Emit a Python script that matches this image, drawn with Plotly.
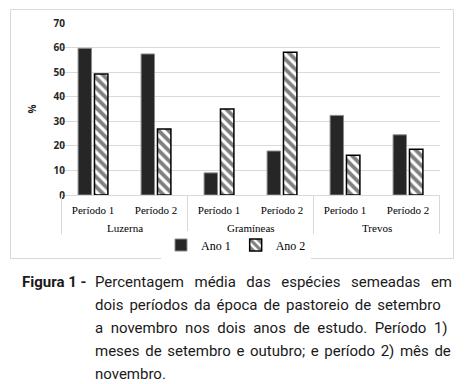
import plotly.graph_objects as go

W, H = 465, 384
OFF = 8  # default page body margin
FW, FH = W - OFF, H - OFF

groups = ["Luzerna", "Luzerna", "Gramíneas", "Gramíneas", "Trevos", "Trevos"]
periods = ["Período 1", "Período 2", "Período 1", "Período 2", "Período 1", "Período 2"]
ano1 = [59.7, 57.4, 9.0, 17.9, 32.4, 24.5]
ano2 = [49.2, 26.9, 35.0, 58.1, 16.2, 18.6]
series_names = ["Ano 1", "Ano 2"]
y_ticks = [0, 10, 20, 30, 40, 50, 60, 70]

caption_head = "Figura 1 -"
caption_lines = [
    "Percentagem média das espécies semeadas em",
    "dois períodos da época de pastoreio de setembro",
    "a novembro nos dois anos de estudo. Período 1)",
    "meses de setembro e outubro; e período 2) mês de",
    "novembro.",
]
caption_word_spacing = [6.8, 2.3, 3.8, 1.9, 0]

keys = [g + " | " + p for g, p in zip(groups, periods)]

fig = go.Figure()
fig.add_trace(go.Bar(
    x=keys, y=ano1, name=series_names[0],
    marker=dict(color="#262626", line=dict(color="#8c8c8c", width=1)),
))
fig.add_trace(go.Bar(
    x=keys, y=ano2, name=series_names[1],
    marker=dict(color="white", line=dict(color="black", width=1.5),
                pattern=dict(shape="\\", fgcolor="black", bgcolor="white",
                             size=7, solidity=0.55)),
))

def px_x(p):
    return (p - OFF) / FW

def px_y(p):
    return 1 - (p - OFF) / FH

fig.update_layout(
    width=FW, height=FH,
    margin=dict(l=0, r=0, t=0, b=0, autoexpand=False),
    paper_bgcolor="white", plot_bgcolor="white",
    barmode="group", bargap=0.48, bargroupgap=0.18,
    showlegend=True,
    legend=dict(orientation="h", x=px_x(236), xanchor="center",
                y=px_y(245), yanchor="middle",
                font=dict(family="Liberation Serif", size=12, color="black"),
                itemwidth=30, tracegroupgap=0),
    xaxis=dict(domain=[px_x(61), px_x(440)], anchor="y", automargin=False,
               type="category", categoryorder="array", categoryarray=keys,
               tickvals=keys, ticktext=periods, ticklabelstandoff=5,
               showline=True, linecolor="#d9d9d9", linewidth=1,
               ticks="", showgrid=False,
               tickfont=dict(family="Liberation Serif", size=11, color="black")),
    yaxis=dict(domain=[px_y(195), px_y(23)], range=[0, 70], automargin=False,
               tickvals=y_ticks, showgrid=True, gridcolor="#d9d9d9",
               gridwidth=1, zeroline=False, showline=False, ticks="",
               ticklabelstandoff=-5,
               tickfont=dict(family="Open Sans", size=10, color="#262626",
                             weight="bold"),
               title=dict(text="%", standoff=15,
                          font=dict(family="Open Sans", size=10,
                                    color="#262626", weight="bold"))),
    font=dict(family="Liberation Serif"),
)

# group labels and dividers (derived from the category list)
unique_groups = []
for g in groups:
    if g not in unique_groups:
        unique_groups.append(g)
for g in unique_groups:
    idx = [i for i, gg in enumerate(groups) if gg == g]
    lo, hi = min(idx) - 0.5, max(idx) + 0.5
    fig.add_annotation(text=g, xref="x", yref="paper", x=(lo + hi) / 2,
                       y=px_y(228), xanchor="center", yanchor="middle",
                       showarrow=False,
                       font=dict(family="Liberation Serif", size=11, color="black"))
    for xb in (lo, hi):
        fig.add_shape(type="line", xref="x", yref="paper", x0=xb, x1=xb,
                      y0=px_y(195), y1=px_y(234),
                      line=dict(color="#d9d9d9", width=1))

fig.add_shape(type="rect", xref="paper", yref="paper",
              x0=px_x(10.5), x1=px_x(453.5), y0=px_y(258.5), y1=px_y(9.5),
              line=dict(color="#d9d9d9", width=1), fillcolor="rgba(0,0,0,0)",
              layer="below")

cap_font = dict(family="Roboto", size=15, color="#1a1a1a")
fig.add_annotation(text="<b>" + caption_head + "</b>", xref="paper", yref="paper",
                   x=px_x(20), y=px_y(282), xanchor="left", yanchor="middle",
                   showarrow=False, font=cap_font)
line_y = [282, 305, 328, 351, 374]
for txt, yy, ws in zip(caption_lines, line_y, caption_word_spacing):
    fig.add_annotation(text=f'<span style="word-spacing:{ws}px">{txt}</span>',
                       xref="paper", yref="paper",
                       x=px_x(93), y=px_y(yy), xanchor="left", yanchor="middle",
                       showarrow=False, font=cap_font)

fig.write_html("out.html")
